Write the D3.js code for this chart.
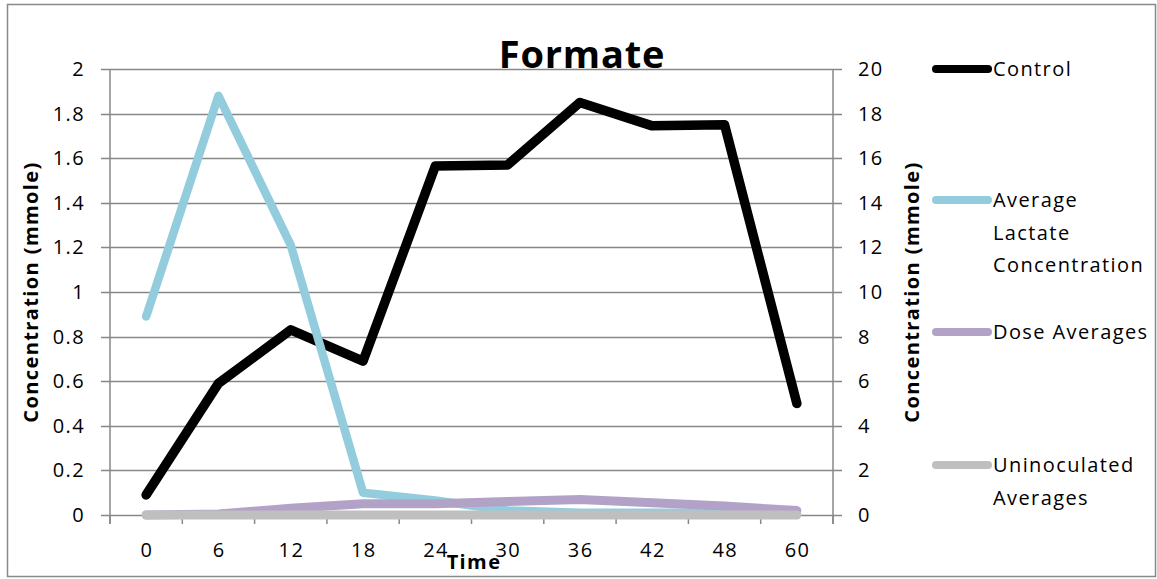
<!DOCTYPE html>
<html>
<head>
<meta charset="utf-8">
<script src="https://cdn.jsdelivr.net/npm/d3@7"></script>
<style>
  body { margin: 0; background: #fff; }
  svg { font-family: "Open Sans", Lato, sans-serif; }
</style>
</head>
<body>
<div id="chart"></div>
<script>
// data
const times = ["0", "6", "12", "18", "24", "30", "36", "42", "48", "60"];
const control = [0.9, 5.9, 8.3, 6.9, 15.65, 15.7, 18.5, 17.45, 17.5, 5.0];      // right axis
const lactate = [0.89, 1.88, 1.21, 0.10, 0.065, 0.02, 0.01, 0.01, 0.01, 0.01];  // left axis
const dose = [0.0, 0.005, 0.03, 0.05, 0.05, 0.06, 0.07, 0.055, 0.04, 0.02];     // left axis
const uninoc = [0, 0, 0, 0, 0, 0, 0, 0, 0, 0];                                   // left axis
const leftTicks = [0, 0.2, 0.4, 0.6, 0.8, 1, 1.2, 1.4, 1.6, 1.8, 2];
const rightTicks = [0, 2, 4, 6, 8, 10, 12, 14, 16, 18, 20];

const width = 1157, height = 579;
const plot = { left: 110, right: 833, top: 69, bottom: 515 };
const ls = "1.4px"; // the reference text runs a bit wide

const svg = d3.select("#chart").append("svg")
    .attr("width", width)
    .attr("height", height);

// chart frame
svg.append("rect")
    .attr("x", 7.5).attr("y", 4.5)
    .attr("width", 1148).attr("height", 572)
    .attr("fill", "#fff")
    .attr("stroke", "#898989")
    .attr("stroke-width", 1.5);

const x = d3.scaleBand().domain(times).range([plot.left, plot.right]).paddingInner(0).paddingOuter(0);
const yL = d3.scaleLinear().domain([0, 2]).range([plot.bottom, plot.top]);
const yR = d3.scaleLinear().domain([0, 20]).range([plot.bottom, plot.top]);
const cx = t => x(t) + x.bandwidth() / 2;

const gridColor = "#878787";

// gridlines (with outward ticks on both sides)
svg.append("g")
    .selectAll("line")
    .data(leftTicks)
    .join("line")
    .attr("x1", plot.left - 9).attr("x2", plot.right + 9)
    .attr("y1", d => Math.round(yL(d)) + 0.5).attr("y2", d => Math.round(yL(d)) + 0.5)
    .attr("stroke", gridColor).attr("stroke-width", 1.5);

// vertical axis lines
[plot.left, plot.right].forEach(px => {
    svg.append("line")
        .attr("x1", px).attr("x2", px)
        .attr("y1", plot.top).attr("y2", plot.bottom + 9)
        .attr("stroke", gridColor).attr("stroke-width", 1.5);
});

// x tick marks at category boundaries
const bounds = times.map(t => x(t)).concat([plot.right]);
svg.append("g")
    .selectAll("line")
    .data(bounds)
    .join("line")
    .attr("x1", d => d).attr("x2", d => d)
    .attr("y1", plot.bottom).attr("y2", plot.bottom + 9)
    .attr("stroke", gridColor).attr("stroke-width", 1.5);

// left tick labels
const fmt = d => String(+d.toFixed(1));
svg.append("g")
    .attr("font-size", 20)
    .attr("letter-spacing", ls)
    .attr("text-anchor", "end")
    .selectAll("text")
    .data(leftTicks)
    .join("text")
    .attr("x", 85)
    .attr("y", d => yL(d))
    .attr("dy", "0.35em")
    .text(fmt);

// right tick labels
svg.append("g")
    .attr("font-size", 20)
    .attr("letter-spacing", ls)
    .attr("text-anchor", "start")
    .selectAll("text")
    .data(rightTicks)
    .join("text")
    .attr("x", 858)
    .attr("y", d => yR(d))
    .attr("dy", "0.35em")
    .text(d => d);

// x tick labels
svg.append("g")
    .attr("font-size", 20)
    .attr("letter-spacing", ls)
    .attr("text-anchor", "middle")
    .selectAll("text")
    .data(times)
    .join("text")
    .attr("x", d => cx(d) + 0.7)
    .attr("y", 557)
    .text(d => d);

// series
const lineL = d3.line().x((d, i) => cx(times[i])).y(d => yL(d));
const lineR = d3.line().x((d, i) => cx(times[i])).y(d => yR(d));

const series = [
    { name: "Control", values: control, gen: lineR, color: "#000000", w: 9.5 },
    { name: "Average Lactate Concentration", values: lactate, gen: lineL, color: "#93CDDD", w: 8.5 },
    { name: "Dose Averages", values: dose, gen: lineL, color: "#B3A2C7", w: 9 },
    { name: "Uninoculated Averages", values: uninoc, gen: lineL, color: "#BFBFBF", w: 9 }
];

svg.append("g")
    .selectAll("path")
    .data(series)
    .join("path")
    .attr("d", d => d.gen(d.values))
    .attr("fill", "none")
    .attr("stroke", d => d.color)
    .attr("stroke-width", d => d.w)
    .attr("stroke-linejoin", "round")
    .attr("stroke-linecap", "round");

// title
svg.append("text")
    .attr("x", 582).attr("y", 68)
    .attr("text-anchor", "middle")
    .attr("font-size", 38)
    .attr("letter-spacing", "0.8px")
    .attr("font-weight", "bold")
    .text("Formate");

// axis titles
svg.append("text")
    .attr("transform", "translate(38,292) rotate(-90)")
    .attr("text-anchor", "middle")
    .attr("font-size", 20)
    .attr("letter-spacing", ls)
    .attr("font-weight", "bold")
    .text("Concentration (mmole)");

svg.append("text")
    .attr("transform", "translate(919,292) rotate(-90)")
    .attr("text-anchor", "middle")
    .attr("font-size", 20)
    .attr("letter-spacing", ls)
    .attr("font-weight", "bold")
    .text("Concentration (mmole)");

svg.append("text")
    .attr("x", 474).attr("y", 569)
    .attr("text-anchor", "middle")
    .attr("font-size", 20)
    .attr("letter-spacing", ls)
    .attr("font-weight", "bold")
    .text("Time");

// legend
const legend = [
    { s: series[0], y: 69, lines: ["Control"] },
    { s: series[1], y: 200, lines: ["Average", "Lactate", "Concentration"] },
    { s: series[2], y: 332, lines: ["Dose Averages"] },
    { s: series[3], y: 465, lines: ["Uninoculated", "Averages"] }
];

const lg = svg.append("g").selectAll("g").data(legend).join("g");
lg.append("line")
    .attr("x1", 936).attr("x2", 988)
    .attr("y1", d => d.y).attr("y2", d => d.y)
    .attr("stroke", d => d.s.color)
    .attr("stroke-width", 8)
    .attr("stroke-linecap", "round");
lg.each(function(d) {
    const t = d3.select(this).append("text")
        .attr("font-size", 20)
        .attr("letter-spacing", ls);
    d.lines.forEach((ln, i) => {
        t.append("tspan")
            .attr("x", 993)
            .attr("y", d.y + i * 32.5)
            .attr("dy", "0.35em")
            .text(ln);
    });
});
</script>
</body>
</html>
